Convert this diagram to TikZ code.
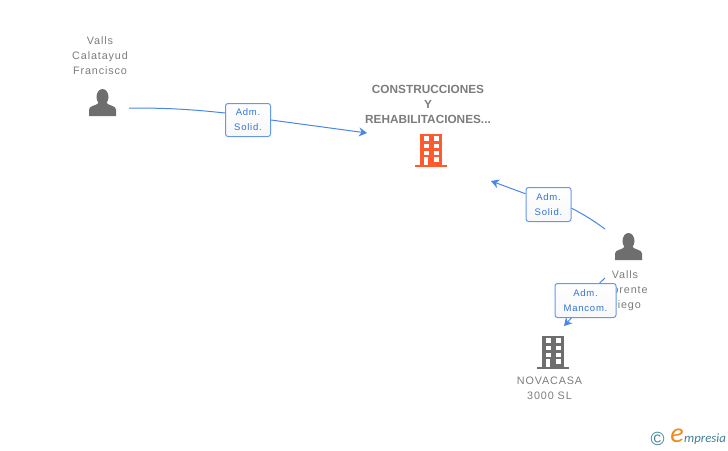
\documentclass[tikz,border=0pt]{standalone}
\usepackage{fontspec}
\setmainfont{Liberation Sans}
\newfontfamily\spacedfont[LetterSpace=8]{Liberation Sans}
\newfontfamily\logofont{Carlito}
\usetikzlibrary{positioning,arrows.meta}
\definecolor{namegray}{HTML}{7C7C7C}
\definecolor{icongray}{HTML}{6E6E6E}
\definecolor{iconred}{HTML}{FF5A2E}
\definecolor{linkblue}{HTML}{4A86E8}
\definecolor{labelblue}{HTML}{2F74DC}
\definecolor{logoteal}{HTML}{3E7F96}
\definecolor{logoorange}{HTML}{F08A1D}
\tikzset{
  x=1pt, y=-1pt, node distance=3pt,
  iconbox/.style={minimum width=32pt, minimum height=34pt, inner sep=0pt},
  personbox/.style={minimum width=28pt, minimum height=27pt, inner sep=0pt},
  namelabel/.style={text=namegray, align=center, inner sep=0pt,
    font=\spacedfont\fontsize{10.8}{15}\selectfont},
  titlelabel/.style={text=namegray, align=center, inner sep=0pt,
    font=\bfseries\fontsize{11.8}{15}\selectfont},
  rolebox/.style={draw=linkblue!85, line width=1pt, rounded corners=2.5pt,
    top color=white, bottom color=black!3,
    text=labelblue, align=center, inner sep=0pt,
    font=\spacedfont\fontsize{9.5}{15}\selectfont},
  link/.style={draw=linkblue, line width=1pt},
  arrowed/.style={-{Stealth[length=8pt,width=9pt]}},
  personicon/.pic={
    \fill[icongray] (0,-5.5) ellipse [x radius=6, y radius=8];
    \fill[icongray] (-13.5,13.5) -- (-13.5,7) .. controls (-13.5,3) and (-6,3.5) .. (-3.5,0)
      -- (3.5,0) .. controls (6,3.5) and (13.5,3) .. (13.5,7) -- (13.5,13.5) -- cycle;
  },
  buildingicon/.pic={
    \fill[pic actions] (-11,-16) rectangle (11,15);
    \fill[pic actions] (-16,14.5) rectangle (16,17);
    \foreach \wy/\wh in {-14/4.5,-6.5/4,0.5/4} {
      \fill[white] (-7.5,\wy) rectangle +(5,\wh);
      \fill[white] (2.5,\wy) rectangle +(5,\wh);
    }
    \fill[white] (-7,7) rectangle (-3,14.5);
    \fill[white] (2.5,7) rectangle (7.5,11.5);
  },
}

\begin{document}
\begin{tikzpicture}
  \useasboundingbox (0,0) rectangle (728,450);

  % people and companies
  \node (calatayud) [personbox] at (102.5,102.5) {};
  \node (llorente) [personbox] at (628.5,246.5) {};
  \node (construcciones) [iconbox] at (431,150) {};
  \node (novacasa) [iconbox] at (553,352) {};
  \pic at (calatayud) {personicon};
  \pic at (llorente) {personicon};
  \pic[fill=iconred] at (construcciones) {buildingicon};
  \pic[fill=icongray] at (novacasa) {buildingicon};

  \node (calatayudname) [namelabel, anchor=south] at (100,74.5) {Valls\\Calatayud\\Francisco};
  \node (llorentename) [namelabel, anchor=north] at (625,270) {Valls\\Llorente\\Diego};
  \node (construccionesname) [titlelabel, anchor=south] at (428,123.5) {CONSTRUCCIONES\\Y\\REHABILITACIONES...};
  \node (novacasaname) [namelabel, anchor=north] at (549.5,377) {NOVACASA\\3000 SL};

  % role boxes
  \node (rolea) [rolebox, minimum width=45pt, minimum height=33pt] at (248,120) {Adm.\\Solid.};
  \node (roleb) [rolebox, minimum width=45pt, minimum height=34pt] at (548.5,204.5) {Adm.\\Solid.};
  \node (rolec) [rolebox, minimum width=61pt, minimum height=34pt] at (585.5,300.5) {Adm.\\Mancom.};

  % free ends
  \coordinate (aout) at (129,108);
  \coordinate (ain) at (367,133);
  \coordinate (bout) at (605,229);
  \coordinate (bin) at (491,181);
  \coordinate (cout) at (605,278);
  \coordinate (cin) at (564,326);

  \draw[link] (aout) to[bend left=3] (rolea.163);
  \draw[link, arrowed] (rolea.east) to (ain);
  \draw[link] (bout) to[bend right=4] (roleb.-9);
  \draw[link, arrowed] (roleb.155) to (bin);
  \draw[link] (cout) to (rolec.51);
  \draw[link, arrowed] (rolec.-129) to (cin);

  % logo
  \node (logoc) [text=logoteal, inner sep=0pt, font=\fontsize{19}{19}\selectfont] at (657.5,439) {\textcopyright};
  \node (logoe) [text=logoorange, inner sep=0pt, font=\logofont\itshape\fontsize{28}{28}\selectfont] at (677,436) {e};
  \node (logotext) [text=logoteal, inner sep=0pt, anchor=west, font=\logofont\itshape\fontsize{12.8}{12.8}\selectfont] at (684,439) {mpresia};
\end{tikzpicture}
\end{document}
